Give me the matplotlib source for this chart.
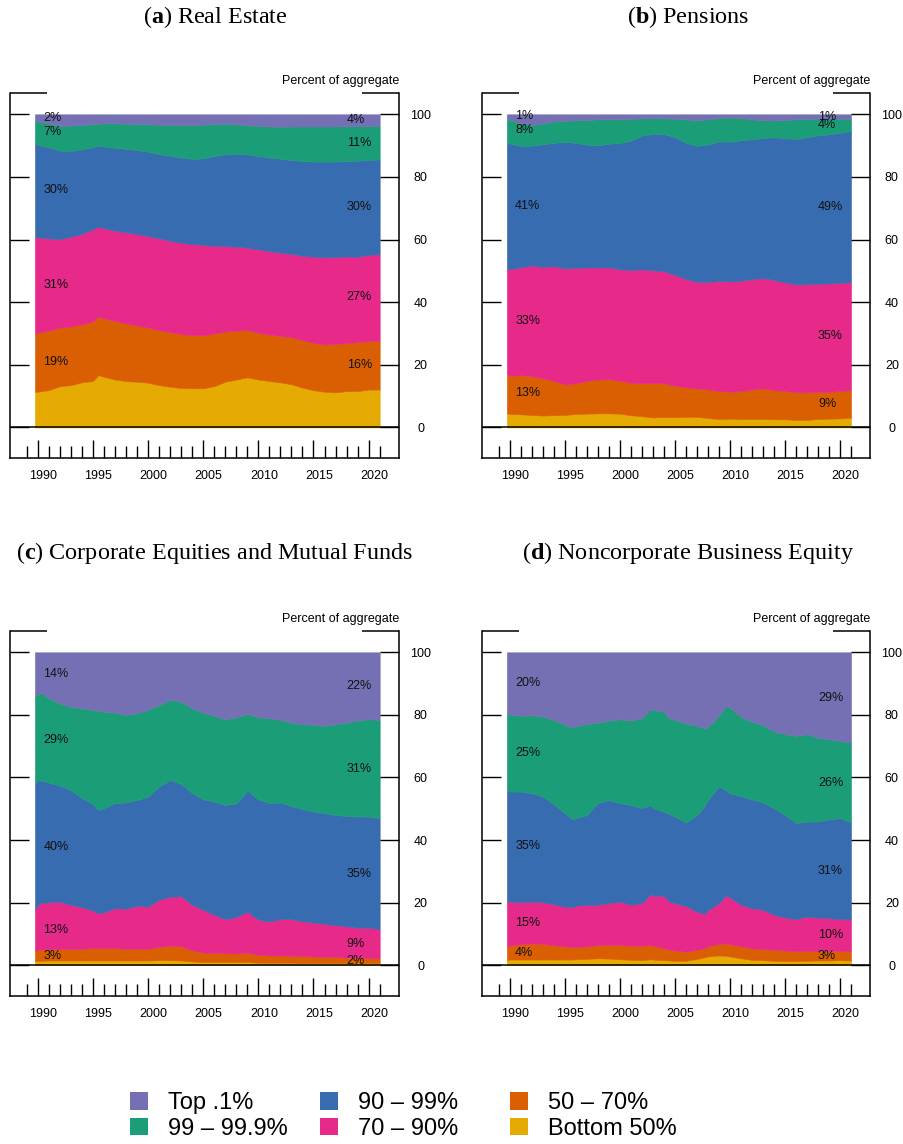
import numpy as np
import matplotlib
matplotlib.use("Agg")
import matplotlib.pyplot as plt
from matplotlib.patches import Patch
from matplotlib.transforms import ScaledTranslation

plt.rcParams['font.family'] = ['Liberation Sans', 'DejaVu Sans']
plt.rcParams['mathtext.fontset'] = 'custom'
plt.rcParams['mathtext.rm'] = 'Liberation Serif'
plt.rcParams['mathtext.bf'] = 'Liberation Serif:bold'

# wealth groups, bottom to top of the stack
groups = ['Bottom 50%', '50 – 70%', '70 – 90%', '90 – 99%', '99 – 99.9%', 'Top .1%']
colors = ['#E6AB02', '#D95F02', '#E7298A', '#386CB0', '#1B9E77', '#7570B3']

# cumulative shares (percent of aggregate held by everyone below the group's upper edge)
# (a) real estate
re_years = [1989.75] + list(range(1990, 1996)) + [1995.5] + list(range(1996, 2022))
re_b50 = [11.4, 11.4, 11.9, 13.2, 13.5, 14.4, 14.8, 16.7, 16.2, 15.3, 14.8, 14.6, 14.3, 13.5, 13.0, 12.6, 12.5,
          12.5, 13.2, 14.6, 15.3, 16.0, 15.3, 14.8, 14.4, 13.8, 12.7, 11.9, 11.4, 11.2, 11.6, 11.6, 12.1, 12.1]
re_p70 = [30.2, 30.2, 30.9, 31.9, 32.2, 32.9, 33.8, 35.4, 34.8, 34.0, 33.2, 32.5, 31.9, 31.1, 30.4, 29.8, 29.5,
          29.4, 30.0, 30.6, 30.9, 31.1, 30.2, 29.7, 29.2, 28.8, 27.9, 27.0, 26.5, 26.6, 27.0, 27.2, 27.6, 27.7]
re_p90 = [60.9, 60.7, 60.4, 60.1, 60.9, 61.8, 63.3, 64.1, 63.6, 62.8, 62.3, 61.8, 61.1, 60.4, 59.6, 59.0, 58.6,
          58.3, 58.0, 57.9, 57.7, 57.4, 56.9, 56.3, 55.8, 55.4, 54.8, 54.5, 54.3, 54.4, 54.6, 54.5, 55.1, 55.3]
re_p99 = [90.9, 90.2, 89.5, 88.4, 88.3, 88.8, 89.5, 90.0, 89.7, 89.3, 89.0, 88.6, 88.1, 87.3, 86.8, 86.2, 85.8,
          85.9, 86.7, 87.2, 87.3, 87.2, 86.7, 86.2, 85.8, 85.4, 85.1, 84.9, 84.9, 84.9, 85.1, 85.2, 85.4, 85.6]
re_p999 = [97.9, 97.6, 97.1, 96.3, 96.4, 96.6, 96.9, 97.0, 97.1, 97.1, 97.0, 96.9, 96.8, 96.7, 96.6, 96.5, 96.5,
           96.7, 96.9, 97.0, 96.8, 96.5, 96.3, 96.1, 96.0, 96.1, 96.1, 96.1, 96.1, 96.1, 96.2, 96.2, 96.2, 96.2]
re_left = ['19%', '31%', '30%', '7%', '2%']
re_right = ['16%', '27%', '30%', '11%', '4%']

# (b) pensions
pe_years = [1989.75] + list(range(1990, 2022))
pe_b50 = [4.5, 4.3, 4.2, 4.0, 3.8, 3.9, 4.0, 4.3, 4.4, 4.5, 4.5, 4.4, 3.9, 3.6, 3.2, 3.3, 3.3,
          3.4, 3.4, 3.0, 2.7, 2.8, 2.7, 2.7, 2.7, 2.6, 2.6, 2.4, 2.4, 2.7, 2.8, 2.9, 3.1]
pe_p70 = [17.3, 16.4, 16.7, 16.4, 15.7, 14.9, 13.7, 14.1, 14.8, 15.3, 15.4, 14.9, 14.3, 14.1, 14.1, 14.1, 13.3,
          12.8, 12.5, 12.1, 11.6, 11.4, 11.6, 12.1, 12.5, 11.9, 11.6, 11.2, 11.2, 11.4, 11.4, 11.6, 11.9]
pe_p90 = [50.7, 50.5, 51.1, 51.7, 51.3, 51.5, 50.8, 50.9, 51.1, 51.1, 51.1, 50.5, 50.3, 50.5, 50.2, 49.9, 48.7,
          47.4, 46.5, 46.4, 46.8, 46.6, 46.9, 47.3, 47.7, 47.1, 46.3, 45.7, 45.7, 45.9, 46.0, 46.2, 46.4]
pe_p99 = [90.9, 90.7, 89.9, 90.0, 90.4, 90.9, 91.2, 90.9, 90.3, 90.1, 90.6, 90.8, 91.6, 93.2, 93.7, 93.7, 92.7,
          90.9, 89.9, 90.4, 91.3, 91.3, 91.7, 92.0, 92.4, 92.7, 92.4, 92.1, 92.7, 93.3, 93.6, 94.1, 94.7]
pe_p999 = [99.0, 98.2, 97.1, 96.6, 97.1, 97.7, 97.9, 98.1, 98.2, 98.4, 98.4, 98.4, 98.6, 98.7, 98.9, 98.7, 98.6,
           98.4, 98.1, 98.4, 98.8, 99.0, 98.8, 98.4, 98.1, 98.0, 98.2, 98.4, 98.5, 98.6, 98.7, 98.6, 98.5]
pe_left = ['13%', '33%', '41%', '8%', '1%']
pe_right = ['9%', '35%', '49%', '4%', '1%']

# (c) corporate equities and mutual funds
ce_years = [1989.75, 1990, 1990.3] + list(range(1991, 1996)) + [1995.5] + list(range(1996, 2022))
ce_b50 = [1.3, 1.4, 1.4, 1.5, 1.5, 1.5, 1.5, 1.5, 1.5, 1.5, 1.5, 1.5, 1.5, 1.5, 1.6, 1.6, 1.5,
          1.2, 1.0, 1.0, 1.0, 1.0, 1.0, 0.8, 0.8, 0.8, 0.8, 0.7, 0.7, 0.7, 0.7, 0.7, 0.7, 0.7, 0.7]
ce_p70 = [4.6, 4.9, 5.0, 5.1, 5.2, 5.1, 5.2, 5.5, 5.4, 5.4, 5.5, 5.2, 5.3, 5.2, 5.8, 6.2, 6.0,
          4.7, 4.0, 3.9, 3.8, 3.7, 3.9, 3.3, 3.1, 3.1, 3.0, 2.9, 2.8, 2.7, 2.6, 2.4, 2.3, 2.2, 2.2]
ce_p90 = [17.7, 19.3, 19.8, 20.1, 20.3, 19.3, 18.5, 17.5, 16.6, 16.9, 18.2, 18.0, 19.0, 18.7, 20.9, 21.9, 22.0,
          19.3, 17.7, 16.1, 14.7, 15.3, 17.1, 14.5, 14.0, 14.7, 14.7, 14.0, 13.6, 13.2, 12.8, 12.4, 12.0, 12.0, 11.5]
ce_p99 = [57.9, 59.2, 59.0, 58.4, 57.4, 56.0, 53.4, 51.5, 49.6, 50.2, 51.8, 52.0, 52.8, 53.9, 57.1, 59.2, 58.0,
          55.0, 53.0, 52.3, 51.2, 51.7, 55.8, 53.0, 51.8, 52.0, 50.9, 49.9, 49.1, 48.6, 48.0, 47.7, 47.5, 47.5, 47.0]
ce_p999 = [86.2, 86.6, 87.1, 85.3, 83.7, 82.6, 82.1, 81.6, 81.3, 81.0, 80.7, 80.0, 80.5, 81.6, 83.2, 84.8, 84.2,
           82.1, 80.7, 79.7, 78.6, 79.2, 80.3, 79.2, 78.9, 78.4, 77.5, 77.0, 76.8, 76.5, 77.0, 77.5, 78.2, 78.6, 78.4]
ce_left = ['3%', '13%', '40%', '29%', '14%']
ce_right = ['2%', '9%', '35%', '31%', '22%']

# (d) noncorporate business equity
nb_years = ([1989.75] + list(range(1990, 1996)) + [1995.7] + list(range(1996, 2003)) + [2002.8, 2003, 2004, 2004.5,
            2005, 2006, 2007, 2007.7, 2008, 2009, 2009.6] + list(range(2010, 2022)))
nb_b50 = [1.7, 1.8, 1.8, 1.8, 1.8, 1.8, 1.8, 1.8, 1.9, 2.0, 2.2, 2.1, 1.9, 1.7, 1.6, 1.9, 1.8, 1.6, 1.5,
          1.4, 1.4, 2.0, 2.5, 2.8, 3.1, 3.0, 2.8, 2.2, 1.7, 1.6, 1.4, 1.3, 1.3, 1.4, 1.5, 1.5, 1.6, 1.5]
nb_p70 = [6.2, 6.3, 6.7, 6.9, 6.8, 6.4, 6.0, 5.8, 5.8, 6.0, 6.4, 6.5, 6.4, 6.2, 6.2, 6.4, 6.2, 5.4, 5.0,
          4.7, 4.3, 4.9, 5.4, 6.0, 6.8, 6.9, 6.7, 6.0, 5.4, 5.1, 4.9, 4.7, 4.4, 4.6, 4.6, 4.6, 4.5, 4.5]
nb_p90 = [20.6, 20.3, 20.1, 20.3, 20.1, 19.5, 18.7, 18.5, 19.0, 19.3, 19.3, 19.8, 20.3, 19.3, 19.8, 22.7, 22.2,
          22.2, 20.3, 19.8, 18.9, 17.1, 16.4, 17.5, 19.8, 22.2, 21.7, 19.3, 18.2, 17.7, 16.1, 15.2, 14.7, 15.5,
          15.2, 15.0, 14.7, 14.7]
nb_p99 = [55.5, 55.5, 55.5, 55.0, 53.9, 51.5, 48.6, 46.6, 47.0, 48.0, 51.8, 52.8, 51.8, 51.2, 50.2, 51.2, 50.2,
          49.1, 48.3, 47.5, 45.6, 48.0, 50.8, 52.8, 57.1, 56.0, 54.9, 54.1, 53.0, 52.0, 50.2, 48.0, 45.4, 45.9,
          45.9, 46.6, 47.0, 45.6]
nb_p999 = [80.3, 80.1, 79.7, 79.9, 79.4, 78.4, 76.8, 76.0, 76.4, 77.1, 77.5, 78.2, 78.6, 78.2, 78.9, 81.8, 81.6,
           81.0, 78.9, 78.4, 77.3, 76.5, 75.7, 76.0, 79.7, 82.7, 82.3, 79.4, 77.8, 76.8, 74.7, 73.9, 73.3, 73.8,
           72.7, 72.2, 71.7, 71.1]
nb_left = ['4%', '15%', '35%', '25%', '20%']
nb_right = ['3%', '10%', '31%', '26%', '29%']

titles = [r'($\mathbf{a}$) Real Estate', r'($\mathbf{b}$) Pensions',
          r'($\mathbf{c}$) Corporate Equities and Mutual Funds', r'($\mathbf{d}$) Noncorporate Business Equity']

W, H = 904, 1144
fig = plt.figure(figsize=(W / 100, H / 100), dpi=100)


def rect(l, t, r, b):
    return [l / W, 1 - b / H, (r - l) / W, (b - t) / H]


boxes = [rect(10, 92.7, 399, 458.3), rect(482, 92.7, 870.3, 458.3),
         rect(10, 630.7, 399, 996), rect(482, 630.7, 870.3, 996)]
title_pos = [(215, 17), (688, 17), (215, 553), (688, 553)]

panels = [
    (re_years, [re_b50, re_p70, re_p90, re_p99, re_p999], re_left, re_right),
    (pe_years, [pe_b50, pe_p70, pe_p90, pe_p99, pe_p999], pe_left, pe_right),
    (ce_years, [ce_b50, ce_p70, ce_p90, ce_p99, ce_p999], ce_left, ce_right),
    (nb_years, [nb_b50, nb_p70, nb_p90, nb_p99, nb_p999], nb_left, nb_right),
]

for i, (years, bounds, lab_l, lab_r) in enumerate(panels):
    ax = fig.add_axes(boxes[i])
    cum = np.vstack([np.zeros(len(years))] + [np.array(b) for b in bounds] + [np.full(len(years), 100.0)])
    shares = np.diff(cum, axis=0)
    ax.stackplot(years, shares, colors=colors, linewidth=0.4, edgecolor='face')

    # band labels at the start and end of the series (skip bottom 50%)
    for k in range(5):
        mid0 = (cum[k + 1, 0] + cum[k + 2, 0]) / 2
        mid1 = (cum[k + 1, -1] + cum[k + 2, -1]) / 2
        ax.text(1990.5, mid0, lab_l[k], ha='left', va='center', fontsize=9, color='#111111')
        ax.text(2018.0, mid1, lab_r[k], ha='left', va='center', fontsize=9, color='#111111')

    ax.axhline(0, color='black', lw=1.1, zorder=3)
    ax.set_xlim(1987.49, 2022.75)
    ax.set_ylim(-9.85, 106.9)

    ax.set_xticks(range(1990, 2021, 5))
    ax.set_xticks([y for y in range(1989, 2022) if y % 5], minor=True)
    ax.tick_params(axis='x', which='major', direction='in', length=13.2, width=1.0, labelsize=9, pad=8.6)
    ax.tick_params(axis='x', which='minor', direction='in', length=8.4, width=1.0)
    ax.set_yticks(range(0, 101, 20))
    ax.tick_params(axis='y', direction='in', length=13.7, width=1.0, left=True, right=True,
                   labelleft=False, labelright=True, labelsize=9, pad=15.5)
    for t in ax.yaxis.get_major_ticks():
        t.label2.set_horizontalalignment('center')
    for lbl in ax.get_xticklabels():
        lbl.set_transform(lbl.get_transform() + ScaledTranslation(0.055, 0, fig.dpi_scale_trans))

    ax.spines['top'].set_visible(False)
    for s in ['left', 'right', 'bottom']:
        ax.spines[s].set_linewidth(1.1)
    for x0, x1 in [(0, 0.095), (0.905, 1)]:
        ax.plot([x0, x1], [1, 1], transform=ax.transAxes, color='black', lw=1.1,
                clip_on=False, solid_capstyle='butt')
    ax.text(1.0, 1 + 11.3 / 365.3, 'Percent of aggregate', transform=ax.transAxes,
            ha='right', va='center', fontsize=9)

    tx, ty = title_pos[i]
    fig.text(tx / W, 1 - ty / H, titles[i], ha='center', va='center',
             fontsize=17.4, family='Liberation Serif')

# legend: three columns of two entries, filled top to bottom
order = [5, 4, 3, 2, 1, 0]
col_x = [130, 320, 510]
for c in range(3):
    idx = order[2 * c:2 * c + 2]
    fig.legend(handles=[Patch(facecolor=colors[j]) for j in idx], labels=[groups[j] for j in idx],
               loc='center left', bbox_to_anchor=(col_x[c] / W, 1 - 1116 / H), frameon=False,
               fontsize=17, handlelength=0.75, handleheight=0.75, handletextpad=0.85,
               borderpad=0, borderaxespad=0, labelspacing=0.15)

fig.savefig('out.png', dpi=100)
